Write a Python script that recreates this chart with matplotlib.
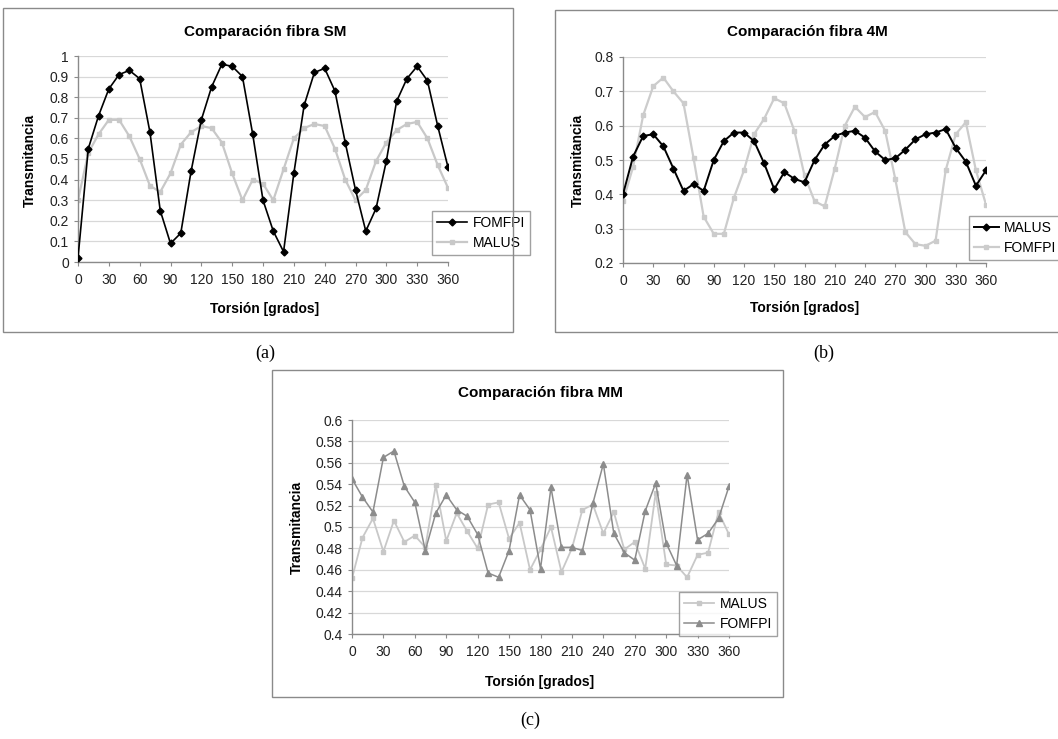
import matplotlib
matplotlib.use("Agg")
import matplotlib.pyplot as plt
from matplotlib.patches import Rectangle

plt.rcParams['font.family'] = ['Liberation Sans', 'DejaVu Sans']

W, H = 1058, 739

# torsion angle (degrees)
angles = list(range(0, 361, 10))
xticks = list(range(0, 361, 30))

# (a) fibra SM
sm_fomfpi = [0.02, 0.55, 0.71, 0.84, 0.91, 0.93, 0.89, 0.63, 0.25, 0.09,
             0.14, 0.44, 0.69, 0.85, 0.96, 0.95, 0.90, 0.62, 0.30, 0.15,
             0.05, 0.43, 0.76, 0.92, 0.94, 0.83, 0.58, 0.35, 0.15, 0.26,
             0.49, 0.78, 0.89, 0.95, 0.88, 0.66, 0.46]
sm_malus = [0.30, 0.53, 0.62, 0.69, 0.69, 0.61, 0.50, 0.37, 0.34, 0.43,
            0.57, 0.63, 0.66, 0.65, 0.58, 0.43, 0.30, 0.40, 0.38, 0.30,
            0.45, 0.60, 0.65, 0.67, 0.66, 0.55, 0.40, 0.30, 0.35, 0.49,
            0.58, 0.64, 0.67, 0.68, 0.60, 0.47, 0.36]

# (b) fibra 4M
m4_malus = [0.40, 0.51, 0.57, 0.575, 0.54, 0.475, 0.41, 0.43, 0.41, 0.50,
            0.555, 0.58, 0.58, 0.555, 0.49, 0.415, 0.465, 0.445, 0.435, 0.50,
            0.545, 0.57, 0.58, 0.585, 0.565, 0.525, 0.50, 0.505, 0.53, 0.56,
            0.575, 0.58, 0.59, 0.535, 0.495, 0.425, 0.47]
m4_fomfpi = [0.38, 0.48, 0.63, 0.715, 0.74, 0.70, 0.665, 0.505, 0.335, 0.285,
             0.285, 0.39, 0.47, 0.575, 0.62, 0.68, 0.665, 0.585, 0.455, 0.38,
             0.365, 0.475, 0.60, 0.655, 0.625, 0.64, 0.585, 0.445, 0.29, 0.255,
             0.25, 0.265, 0.47, 0.575, 0.61, 0.47, 0.37]

# (c) fibra MM
mm_malus = [0.452, 0.490, 0.508, 0.477, 0.506, 0.486, 0.492, 0.481, 0.539, 0.487,
            0.513, 0.496, 0.480, 0.521, 0.523, 0.489, 0.504, 0.460, 0.479, 0.500,
            0.458, 0.480, 0.516, 0.521, 0.494, 0.514, 0.479, 0.486, 0.461, 0.532,
            0.465, 0.464, 0.453, 0.474, 0.476, 0.514, 0.493]
mm_fomfpi = [0.545, 0.528, 0.514, 0.565, 0.571, 0.538, 0.523, 0.478, 0.513, 0.530,
             0.516, 0.510, 0.493, 0.457, 0.453, 0.478, 0.530, 0.516, 0.461, 0.537,
             0.481, 0.481, 0.478, 0.522, 0.559, 0.494, 0.476, 0.469, 0.515, 0.541,
             0.485, 0.464, 0.549, 0.488, 0.494, 0.508, 0.538]

fig = plt.figure(figsize=(W / 100, H / 100), dpi=100)


def fx(px):
    return px / W


def fy(py):
    return 1 - py / H


def panel_box(x0, y0, x1, y1):
    fig.patches.append(Rectangle((fx(x0), fy(y1)), fx(x1) - fx(x0), fy(y0) - fy(y1),
                                 transform=fig.transFigure, fill=False,
                                 edgecolor='#8a8a8a', linewidth=1.0))


def make_axes(left, top, right, bottom, ylim, ystep):
    ax = fig.add_axes([fx(left), fy(bottom), fx(right) - fx(left), fy(top) - fy(bottom)])
    ax.set_xlim(0, 360)
    ax.set_ylim(*ylim)
    ax.set_xticks(xticks)
    yt = []
    v = ylim[0]
    while v <= ylim[1] + 1e-9:
        yt.append(round(v, 3))
        v += ystep
    ax.set_yticks(yt)
    ax.set_yticklabels([('%.2f' % t).rstrip('0').rstrip('.') for t in yt])
    for s in ['top', 'right']:
        ax.spines[s].set_visible(False)
    for s in ['left', 'bottom']:
        ax.spines[s].set_color('#8a8a8a')
        ax.spines[s].set_linewidth(1.0)
    ax.tick_params(axis='both', labelsize=10, colors='#8a8a8a', labelcolor='#222222',
                   length=3, width=0.8)
    ax.tick_params(axis='x', pad=5)
    ax.grid(axis='y', color='#d8d8d8', linewidth=0.9)
    ax.set_axisbelow(True)
    ax.patch.set_alpha(0)
    return ax


def add_legend(ax, h, l, px, py, hl=2.2):
    ax.legend(h, l, loc='upper left', bbox_to_anchor=(fx(px), fy(py)),
              bbox_transform=fig.transFigure, fontsize=10, frameon=True, fancybox=False,
              edgecolor='#8a8a8a', borderpad=0.35, labelspacing=0.45, handlelength=hl,
              handletextpad=0.4)


# ---------- (a) SM ----------
panel_box(3, 8, 513, 332)
ax = make_axes(78, 56, 448, 262, (0, 1), 0.1)
ax.plot(angles, sm_malus, color='#c8c8c8', marker='s', markersize=3.5, linewidth=1.6,
        label='MALUS', zorder=2)
ax.plot(angles, sm_fomfpi, color='black', marker='D', markersize=3.5, linewidth=1.2,
        label='FOMFPI', zorder=3)
h, l = ax.get_legend_handles_labels()
add_legend(ax, h[::-1], l[::-1], 425, 204)
fig.text(fx(265), fy(32), 'Comparación fibra SM', ha='center', va='center',
         fontsize=11, fontweight='bold')
fig.text(fx(265), fy(309), 'Torsión [grados]', ha='center', va='center',
         fontsize=10, fontweight='bold')
fig.text(fx(30), fy(160), 'Transmitancia', ha='center', va='center', rotation=90,
         fontsize=10, fontweight='bold')

# ---------- (b) 4M ----------
panel_box(555, 10, 1070, 332)
ax = make_axes(623, 57, 986, 263, (0.2, 0.8), 0.1)
ax.plot(angles, m4_fomfpi, color='#cccccc', marker='s', markersize=3.5, linewidth=1.6,
        label='FOMFPI', zorder=2)
ax.plot(angles, m4_malus, color='black', marker='D', markersize=3.5, linewidth=1.4,
        label='MALUS', zorder=3)
h, l = ax.get_legend_handles_labels()
add_legend(ax, h[::-1], l[::-1], 962, 209, hl=1.8)
fig.text(fx(807), fy(32), 'Comparación fibra 4M', ha='center', va='center',
         fontsize=11, fontweight='bold')
fig.text(fx(805), fy(308), 'Torsión [grados]', ha='center', va='center',
         fontsize=10, fontweight='bold')
fig.text(fx(578), fy(160), 'Transmitancia', ha='center', va='center', rotation=90,
         fontsize=10, fontweight='bold')

# ---------- (c) MM ----------
panel_box(272, 370, 783, 697)
ax = make_axes(352, 420, 729, 634, (0.4, 0.6), 0.02)
ax.plot(angles, mm_malus, color='#c8c8c8', marker='s', markersize=3.5, linewidth=1.3,
        label='MALUS', zorder=2)
ax.plot(angles, mm_fomfpi, color='#8c8c8c', marker='^', markersize=4, linewidth=1.1,
        label='FOMFPI', zorder=3)
h, l = ax.get_legend_handles_labels()
add_legend(ax, h, l, 672, 585)
fig.text(fx(540), fy(393), 'Comparación fibra MM', ha='center', va='center',
         fontsize=11, fontweight='bold')
fig.text(fx(540), fy(682), 'Torsión [grados]', ha='center', va='center',
         fontsize=10, fontweight='bold')
fig.text(fx(297), fy(527), 'Transmitancia', ha='center', va='center', rotation=90,
         fontsize=10, fontweight='bold')

# panel letters
for txt, px, py in [('(a)', 265, 353), ('(b)', 824, 353), ('(c)', 530, 720)]:
    fig.text(fx(px), fy(py), txt, ha='center', va='center', fontsize=13,
             family='Liberation Serif')

fig.savefig('out.png', dpi=100)
